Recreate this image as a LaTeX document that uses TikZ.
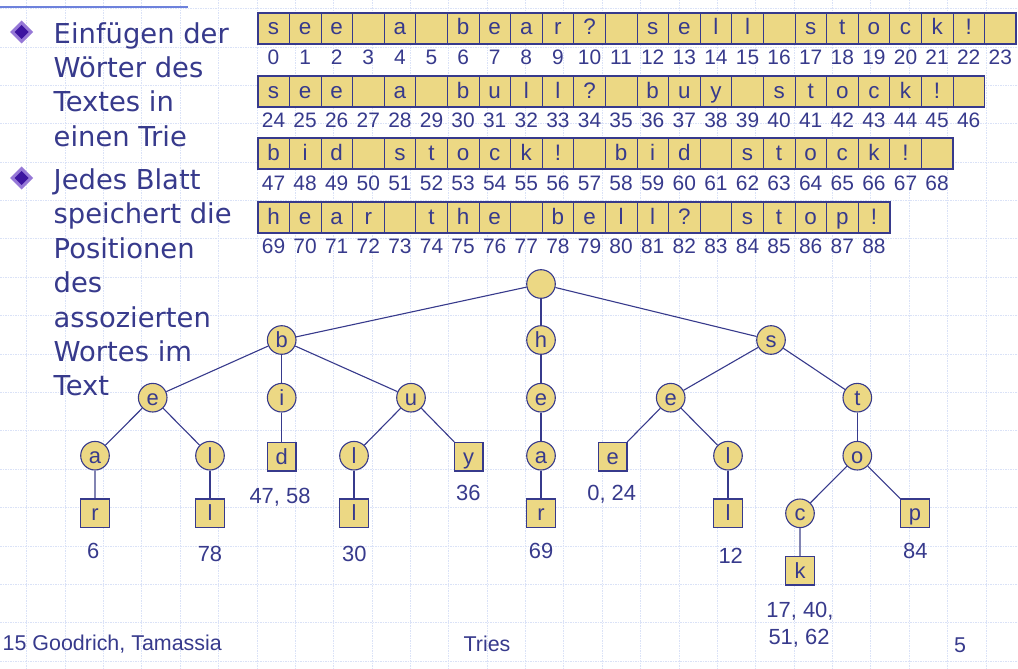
\documentclass[tikz,border=0pt]{standalone}
\usepackage{fontspec}
\setmainfont{Liberation Sans}
\newfontfamily\bulletfont{DejaVu Sans}
\definecolor{cellfill}{RGB}{236,216,132}
\definecolor{ink}{RGB}{55,58,140}
\definecolor{gridc}{RGB}{218,226,247}
\definecolor{topline}{RGB}{110,130,220}
\definecolor{bulletdark}{RGB}{60,20,160}
\definecolor{bulletlight}{RGB}{150,120,215}
\definecolor{lightedge}{RGB}{130,132,178}
\newcommand\textrow[4]{%
  \foreach \ch [count=\k from 0] in {#4} {
    \pgfmathtruncatemacro\idx{#1+\k}
    \node[cell] (c\idx) at ({257.7+31.6*(\k+0.5)}, {#2+15.5}) {\ch};
    \node[idx] (n\idx) at ({257.7+31.6*(\k+0.5)}, {#2+52}) {\idx};
  }
  \draw[rowframe] (257.7,#2) rectangle ++({31.6*#3},31);
}
\begin{document}
\begin{tikzpicture}[x=1bp,y=-1bp,
  gridline/.style={gridc, line width=0.8bp, dash pattern=on 1.5bp off 1bp},
  cell/.style={rectangle, draw=ink, line width=0.8bp, fill=cellfill, minimum width=31.6bp, minimum height=31bp, inner sep=0pt, text height=17bp, text depth=3.4bp, font=\fontsize{22.5}{26}\selectfont, text=ink},
  idx/.style={font=\fontsize{21}{24}\selectfont, text=ink, anchor=base, inner sep=0pt},
  rowframe/.style={draw=ink, line width=1.8bp},
  circ/.style={circle, draw=ink, line width=1.1bp, fill=cellfill, minimum size=28.6bp, inner sep=0pt, text height=17bp, text depth=2.4bp, font=\fontsize{22}{26}\selectfont, text=ink},
  sq/.style={rectangle, draw=ink, line width=1.1bp, fill=cellfill, minimum size=28.6bp, inner sep=0pt, text height=17bp, text depth=2.4bp, font=\fontsize{22}{26}\selectfont, text=ink},
  edge/.style={draw=ink, line width=1.1bp},
  ledge/.style={draw=lightedge, line width=1.3bp},
  tedge/.style={draw=ink, line width=1.9bp},
  lab/.style={font=\fontsize{22}{26}\selectfont, text=ink, anchor=base, inner sep=0pt},
  btext/.style={font=\bulletfont\fontsize{27.5}{34}\selectfont, text=ink, anchor=base west, inner sep=0pt},
  foot/.style={font=\fontsize{21.5}{24}\selectfont, text=ink, anchor=base, inner sep=0pt}
]
\useasboundingbox (0,0) rectangle (1018,669);
\fill[white] (0,0) rectangle (1018,669);
% grid
\foreach \k in {0,...,25} \draw[gridline] ({26.7+38.37*\k},0) -- ++(0,669);
\foreach \k in {0,...,17} \draw[gridline] (0,{8.6+38.38*\k}) -- ++(1018,0);
\draw[topline, line width=1.2bp] (0,7) -- (188,7);
% bullets
\fill[bulletlight] (21.7,20.5) -- (33.2,32) -- (21.7,43.5) -- (10.2,32) -- cycle;
\fill[bulletdark] (21.7,25) -- (28.7,32) -- (21.7,39) -- (14.7,32) -- cycle;
\fill[bulletlight] (21.7,166.5) -- (33.2,178) -- (21.7,189.5) -- (10.2,178) -- cycle;
\fill[bulletdark] (21.7,171) -- (28.7,178) -- (21.7,185) -- (14.7,178) -- cycle;
\node[btext] (t1) at (53.5,43.3) {Einfügen der};
\node[btext] (t2) at (53.5,77.7) {Wörter des};
\node[btext] (t3) at (53.5,112) {Textes in};
\node[btext] (t4) at (53.5,146.4) {einen Trie};
\node[btext] (t5) at (53.5,189.3) {Jedes Blatt};
\node[btext] (t6) at (53.5,223.7) {speichert die};
\node[btext] (t7) at (53.5,258) {Positionen};
\node[btext] (t8) at (53.5,292.5) {des};
\node[btext] (t9) at (53.5,327) {assozierten};
\node[btext] (t10) at (53.5,361.3) {Wortes im};
\node[btext] (t11) at (53.5,395.7) {Text};
% text rows
\textrow{0}{12.7}{24}{s,e,e,{},a,{},b,e,a,r,?,{},s,e,l,l,{},s,t,o,c,k,!,{}}
\textrow{24}{76}{23}{s,e,e,{},a,{},b,u,l,l,?,{},b,u,y,{},s,t,o,c,k,!,{}}
\textrow{47}{138.4}{22}{b,i,d,{},s,t,o,c,k,!,{},b,i,d,{},s,t,o,c,k,!,{}}
\textrow{69}{201.7}{20}{h,e,a,r,{},t,h,e,{},b,e,l,l,?,{},s,t,o,p,!}
% trie
\node[circ] (root) at (541,284) {};
\node[circ] (b) at (281.7,340) {b};
\node[circ] (h) at (541,340) {h};
\node[circ] (s) at (771,340) {s};
\node[circ] (be) at (152.7,397.7) {e};
\node[circ] (bi) at (281.7,397.7) {i};
\node[circ] (bu) at (411,397.7) {u};
\node[circ] (he) at (541,397.7) {e};
\node[circ] (se) at (670.7,397.7) {e};
\node[circ] (st) at (857.3,397.7) {t};
\node[circ] (bea) at (95,455.7) {a};
\node[circ] (bel) at (210,455.7) {l};
\node[sq] (bid) at (281.7,456.7) {d};
\node[circ] (bul) at (354,455.7) {l};
\node[sq] (buy) at (468.7,456.7) {y};
\node[circ] (hea) at (541,455.7) {a};
\node[sq] (see) at (612.7,456.7) {e};
\node[circ] (sel) at (728,455.7) {l};
\node[circ] (sto) at (857.3,455.7) {o};
\node[sq] (bear) at (95,513.3) {r};
\node[sq] (bell) at (210,513.3) {l};
\node[sq] (bull) at (354,513.3) {l};
\node[sq] (hear) at (541,513.3) {r};
\node[sq] (sell) at (728,513.3) {l};
\node[circ] (stoc) at (800,513.3) {c};
\node[sq] (stop) at (915,513.3) {p};
\node[sq] (stock) at (800,570.7) {k};
\draw[edge] (root) -- (b);
\draw[edge] (root) -- (h);
\draw[edge] (root) -- (s);
\draw[edge] (b) -- (be);
\draw[edge] (b) -- (bi);
\draw[edge] (b) -- (bu);
\draw[edge] (be) -- (bea);
\draw[edge] (be) -- (bel);
\draw[edge] (bi) -- (bid);
\draw[edge] (bu) -- (bul);
\draw[edge] (bu) -- (buy);
\draw[ledge] (bea) -- (bear);
\draw[tedge] (bel) -- (bell);
\draw[edge] (bul) -- (bull);
\draw[edge] (h) -- (he);
\draw[edge] (he) -- (hea);
\draw[edge] (hea) -- (hear);
\draw[edge] (s) -- (se);
\draw[edge] (s) -- (st);
\draw[edge] (se) -- (see);
\draw[edge] (se) -- (sel);
\draw[tedge] (sel) -- (sell);
\draw[edge] (st) -- (sto);
\draw[edge] (sto) -- (stoc);
\draw[edge] (sto) -- (stop);
\draw[ledge] (stoc) -- (stock);
% occurrence labels
\node[lab] (o1) at (93.3,558) {6};
\node[lab] (o2) at (210,561.3) {78};
\node[lab] (o3) at (280,503.3) {47, 58};
\node[lab] (o4) at (354.3,561.3) {30};
\node[lab] (o5) at (468.3,500.6) {36};
\node[lab] (o6) at (541,558) {69};
\node[lab] (o7) at (611.7,500.6) {0, 24};
\node[lab] (o8) at (730.7,563.3) {12};
\node[lab] (o9) at (915.3,558) {84};
\node[lab] (o10) at (800,617.3) {17, 40,};
\node[lab] (o11) at (799,644) {51, 62};
% footer
\node[foot, anchor=base east] (f1) at (222,650) {15 Goodrich, Tamassia};
\node[foot] (f2) at (487,651) {Tries};
\node[foot] (f3) at (960,652) {5};
\end{tikzpicture}
\end{document}
